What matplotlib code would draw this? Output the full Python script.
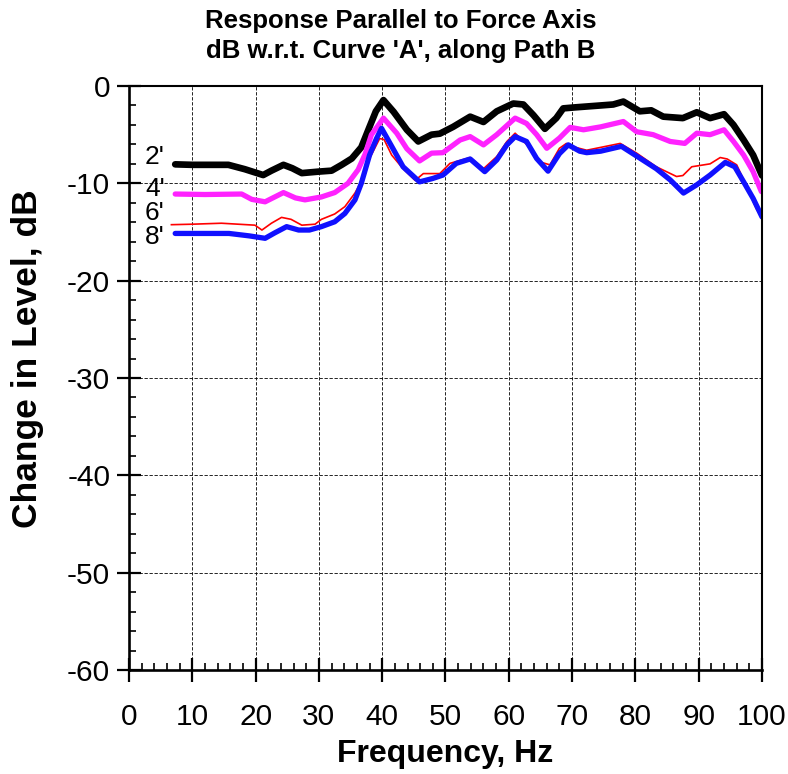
import numpy as np
import matplotlib
matplotlib.use("Agg")
from matplotlib import pyplot as plt
from matplotlib.ticker import MultipleLocator

plt.rcParams["font.family"] = ["Liberation Sans", "DejaVu Sans"]
plt.rcParams["axes.unicode_minus"] = False

# 2' curve (black)
freq_2 = [7.3, 10, 15.7, 18.3, 21.2, 22.5, 24.4, 25.8, 27.3, 29.9, 32.0, 33.6, 35.2, 36.7,
          38.0, 39.0, 40.2, 41.8, 43.9, 45.7, 47.8, 49.1, 51.2, 53.9, 56.0, 58.1, 60.7,
          62.3, 63.9, 65.7, 67.5, 68.6, 70.4, 74.5, 76.5, 78.1, 80.7, 82.5, 84.4, 87.5,
          89.7, 91.8, 94.0, 95.5, 97.1, 98.6, 100.0]
lvl_2 = [-8.05, -8.1, -8.1, -8.55, -9.15, -8.7, -8.1, -8.45, -8.95, -8.8, -8.7, -8.1, -7.45, -6.3,
         -4.2, -2.6, -1.45, -2.65, -4.5, -5.7, -5.0, -4.9, -4.2, -3.15, -3.7, -2.6, -1.8,
         -1.9, -3.0, -4.4, -3.3, -2.3, -2.2, -2.0, -1.9, -1.6, -2.6, -2.5, -3.15, -3.3,
         -2.7, -3.3, -2.9, -4.0, -5.55, -7.1, -9.2]

# 4' curve (magenta)
freq_4 = [7.3, 12, 17.8, 19.4, 21.5, 24.4, 26.3, 27.8, 30.4, 32.5, 34.6, 36.2, 37.3, 38.3,
          40.2, 42.3, 43.9, 45.9, 47.8, 49.6, 52.3, 53.9, 56.0, 58.1, 61.0, 62.8, 64.4,
          66.0, 68.0, 69.7, 71.8, 74.5, 78.1, 80.2, 82.8, 85.5, 87.8, 89.7, 91.8, 94.0,
          95.5, 97.1, 98.6, 99.9]
lvl_4 = [-11.1, -11.15, -11.1, -11.65, -11.9, -10.95, -11.5, -11.7, -11.4, -10.95, -10.0, -8.6, -7.0, -5.0,
         -3.3, -4.85, -6.45, -7.7, -6.9, -6.85, -5.55, -5.2, -6.05, -5.0, -3.3, -3.85, -5.0,
         -6.4, -5.35, -4.25, -4.5, -4.2, -3.65, -4.7, -5.0, -5.7, -5.9, -4.85, -5.0, -4.5,
         -5.7, -7.1, -8.8, -10.85]

# 6' curve (red)
freq_6 = [6.7, 10, 14.6, 19.9, 21.0, 22.5, 24.1, 25.6, 27.3, 29.4, 30.4, 32.5, 34.1, 35.7,
          37.3, 38.0, 39.6, 40.3, 41.5, 43.3, 45.2, 46.5, 49.1, 50.7, 53.9, 56.0, 58.1,
          59.7, 61.0, 62.8, 64.9, 66.5, 68.0, 69.1, 70.5, 72.3, 77.6, 80.2, 83.3, 86.5,
          87.5, 88.9, 91.8, 93.4, 94.5, 96.0, 97.5, 99.1, 100.0]
lvl_6 = [-14.25, -14.2, -14.1, -14.3, -14.8, -14.1, -13.5, -13.7, -14.3, -14.2, -13.7, -13.15, -12.4, -11.0,
         -9.1, -7.45, -5.4, -5.5, -7.1, -8.5, -9.7, -9.0, -9.0, -7.95, -7.35, -8.5, -7.25,
         -5.7, -4.85, -6.0, -7.8, -8.1, -6.4, -5.9, -6.3, -6.6, -5.9, -6.9, -8.3, -9.3,
         -9.2, -8.3, -8.0, -7.35, -7.5, -8.1, -10.2, -12.6, -13.6]

# 8' curve (blue)
freq_8 = [7.3, 15.8, 19.0, 21.5, 23.0, 24.9, 26.8, 28.5, 30.4, 32.5, 34.1, 35.7, 36.7, 38.0,
          39.1, 39.9, 41.5, 43.3, 45.9, 48.0, 49.6, 51.7, 53.9, 56.2, 58.1, 59.7, 61.0,
          62.8, 64.4, 66.2, 68.0, 69.4, 71.2, 72.3, 74.5, 77.8, 80.2, 83.3, 85.5, 87.6,
          89.7, 91.8, 94.2, 95.7, 97.1, 98.6, 100.0]
lvl_8 = [-15.15, -15.15, -15.4, -15.65, -15.1, -14.45, -14.8, -14.8, -14.45, -13.95, -13.1, -11.7, -10.0, -7.1,
         -5.4, -4.35, -6.2, -8.3, -9.85, -9.5, -9.15, -7.95, -7.5, -8.8, -7.6, -6.05, -5.2,
         -5.7, -7.45, -8.75, -6.95, -6.05, -6.7, -6.85, -6.7, -6.2, -7.2, -8.5, -9.65, -11.0,
         -10.15, -9.15, -7.85, -8.3, -9.85, -11.55, -13.45]

curve_labels = ["2'", "4'", "6'", "8'"]
label_y = [-7.3, -10.6, -13.1, -15.5]

fig = plt.figure(figsize=(7.88, 7.74), dpi=100)
ax = fig.add_axes([0.1637, 0.1344, 0.8033, 0.7545])

ax.plot(freq_2, lvl_2, color="black", lw=4.8, solid_capstyle="round", solid_joinstyle="round")
ax.plot(freq_4, lvl_4, color="#ff22ff", lw=3.8, solid_capstyle="round", solid_joinstyle="round")
ax.plot(freq_6, lvl_6, color="red", lw=1.2)
ax.plot(freq_8, lvl_8, color="#1010ff", lw=3.8, solid_capstyle="round", solid_joinstyle="round")

for lab, yv in zip(curve_labels, label_y):
    ax.text(4.1, yv, lab, fontsize=19, ha="center", va="center")

ax.set_xlim(0, 100)
ax.set_ylim(-60, 0)
ax.xaxis.set_major_locator(MultipleLocator(10))
ax.xaxis.set_minor_locator(MultipleLocator(2))
ax.yaxis.set_major_locator(MultipleLocator(10))
ax.yaxis.set_minor_locator(MultipleLocator(2))
ax.tick_params(which="major", direction="inout", length=17, width=1.6, labelsize=21.5, pad=5)
ax.tick_params(axis="x", which="major", pad=15)
ax.tick_params(which="minor", direction="in", length=5, width=1.2)
ax.grid(True, which="major", color="black", ls=(0, (4, 2)), lw=0.6)

for side in ["left", "bottom"]:
    ax.spines[side].set_linewidth(1.9)
for side in ["top", "right"]:
    ax.spines[side].set_linewidth(1.5)

ax.set_xlabel("Frequency, Hz", fontsize=23, fontweight="bold", labelpad=6)
ax.set_ylabel("Change in Level, dB", fontsize=25.5, fontweight="bold")
ax.yaxis.set_label_coords(-0.134, 0.533)

fig.text(0.509, 0.973, "Response Parallel to Force Axis", fontsize=18.5, fontweight="bold",
         ha="center", va="center")
fig.text(0.509, 0.934, "dB w.r.t. Curve 'A', along Path B", fontsize=18.5, fontweight="bold",
         ha="center", va="center")

plt.savefig("out.png", dpi=100)
